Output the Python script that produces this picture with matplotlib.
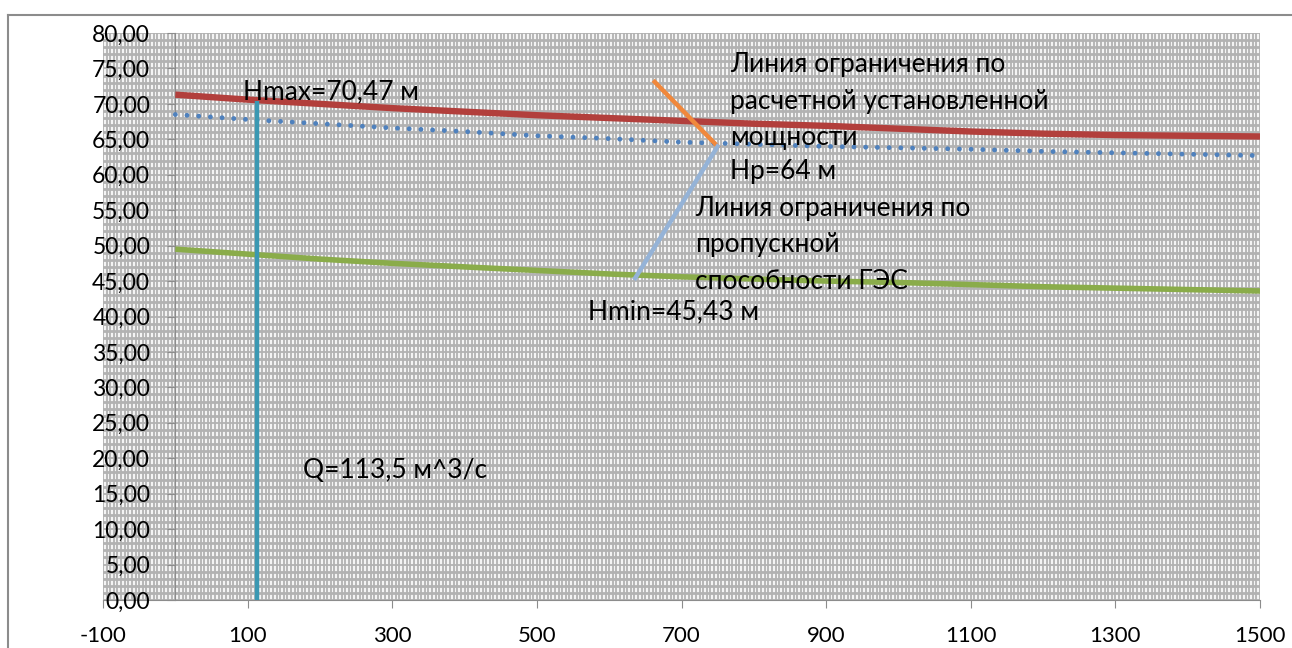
import matplotlib
matplotlib.use("Agg")
import matplotlib.pyplot as plt
from matplotlib.ticker import MultipleLocator, FuncFormatter
from matplotlib.lines import Line2D

plt.rcParams["font.family"] = ["Lato", "DejaVu Sans"]
plt.rcParams["axes.unicode_minus"] = False

# ── data ─────────────────────────────────────────────────────────────────────
q_grid = [0, 100, 200, 300, 400, 500, 600, 700, 800, 900, 1000, 1100, 1200, 1300, 1400, 1500]
h_upper = [71.3, 70.6, 70.0, 69.4, 68.9, 68.4, 68.0, 67.6, 67.2, 66.9, 66.5, 66.1, 65.8, 65.6, 65.5, 65.4]
h_mid = [68.5, 67.8, 67.2, 66.6, 66.1, 65.5, 65.1, 64.6, 64.3, 64.0, 63.8, 63.6, 63.3, 63.1, 62.9, 62.7]
h_lower = [49.5, 48.8, 48.1, 47.5, 47.0, 46.5, 46.0, 45.6, 45.3, 45.0, 44.8, 44.5, 44.2, 44.0, 43.8, 43.6]

q_design = [113.5, 113.5]
h_design = [0.0, 70.47]

q_power_limit = [663, 750]
h_power_limit = [73.1, 64.0]

q_flow_limit = [750, 636]
h_flow_limit = [64.0, 45.43]

x_ticks = list(range(-100, 1501, 200))

power_note = ["Линия ограничения по", "расчетной установленной", "мощности", "Hp=64 м"]
flow_note = ["Линия ограничения по", "пропускной", "способности ГЭС"]

# ── figure ───────────────────────────────────────────────────────────────────
fig = plt.figure(figsize=(12.92, 6.48), dpi=100)
ax = fig.add_axes([103 / 1292, 48 / 648, 1157 / 1292, 567 / 648])

# outer chart border (top + left visible)
fig.add_artist(Line2D([8 / 1292, 1.0], [1 - 15 / 648, 1 - 15 / 648],
                      transform=fig.transFigure, color="#8c8c8c", lw=1.5))
fig.add_artist(Line2D([8 / 1292, 8 / 1292], [0.0, 1 - 15 / 648],
                      transform=fig.transFigure, color="#8c8c8c", lw=1.5))

ax.set_xlim(-100, 1500)
ax.set_ylim(0, 80)
ax.set_facecolor("#f4f4f4")

ax.xaxis.set_minor_locator(MultipleLocator(5))
ax.yaxis.set_major_locator(MultipleLocator(5))
ax.yaxis.set_minor_locator(MultipleLocator(1))
ax.set_xticks(x_ticks)

ax.grid(True, which="minor", axis="x", color="#b2b2b2", lw=1.3)
ax.grid(True, which="minor", axis="y", color="#b2b2b2", lw=2.0)
ax.grid(True, which="major", color="#b2b2b2", lw=1.3)
ax.set_axisbelow(True)

for side in ("top", "right"):
    ax.spines[side].set_visible(False)
ax.spines["bottom"].set_color("#8c8c8c")
ax.spines["left"].set_color("#8c8c8c")
ax.spines["left"].set_position(("data", 0))

ax.tick_params(axis="x", which="major", direction="out", length=6, color="#8c8c8c",
               labelsize=16, pad=13)
ax.tick_params(axis="y", which="major", direction="out", length=6, color="#8c8c8c",
               labelleft=False)
ax.tick_params(which="minor", length=0)

# y tick labels sit over the left edge of the plot area, not on the axis line
sec = ax.secondary_yaxis(0.0)
sec.yaxis.set_major_locator(MultipleLocator(5))
sec.yaxis.set_major_formatter(FuncFormatter(lambda v, _: f"{v:.2f}".replace(".", ",")))
sec.tick_params(length=0, labelsize=16.5, pad=-34)
sec.spines["left"].set_visible(False)
sec.set_zorder(6)

# ── series ───────────────────────────────────────────────────────────────────
ax.plot(q_grid, h_upper, color="#b23f3c", lw=4.6, solid_capstyle="butt", zorder=3)
ax.plot(q_grid, h_mid, color="#4f81bd", lw=3.5, linestyle=(0, (0.01, 2.4)),
        dash_capstyle="round", zorder=3)
ax.plot(q_grid, h_lower, color="#8aac4a", lw=4.0, solid_capstyle="butt", zorder=3)
ax.plot(q_design, h_design, color="#3a98b2", lw=3.2, solid_capstyle="butt", zorder=4)
ax.plot(q_power_limit, h_power_limit, color="#f0883c", lw=3.2, zorder=4)
ax.plot(q_flow_limit, h_flow_limit, color="#95b3d7", lw=3.2, zorder=4)

# ── annotations ──────────────────────────────────────────────────────────────
txt = dict(fontsize=19, color="black", zorder=5, va="center", ha="left")
ax.text(93, 71.7, "Hmax=70,47 м", **txt)
for line, y in zip(power_note, [75.6, 70.4, 65.3, 60.4]):
    ax.text(767, y, line, **txt)
for line, y in zip(flow_note, [55.3, 50.1, 44.9]):
    ax.text(719, y, line, **txt)
ax.text(571, 40.6, "Hmin=45,43 м", **txt)
ax.text(177, 18.3, "Q=113,5 м^3/с", **txt)

fig.savefig("out.png", dpi=100)
